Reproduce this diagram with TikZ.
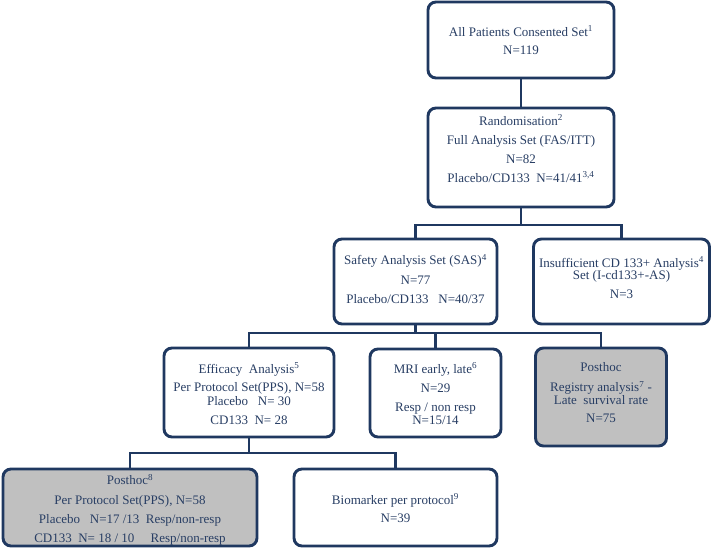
\documentclass[tikz,border=0pt]{standalone}
\usepackage{fontspec}
\setmainfont{Liberation Serif}
\definecolor{edge}{RGB}{31,56,96}
\definecolor{txt}{RGB}{40,62,100}
\definecolor{shade}{RGB}{192,192,192}
\begin{document}
\begin{tikzpicture}[x=1pt,y=-1pt,
  box/.style={draw=edge,line width=2.9pt,rounded corners=8pt,fill=white,inner sep=0pt},
  greybox/.style={box,fill=shade},
  label/.style={text=txt,align=center,inner sep=0pt,font=\fontsize{13}{15}\selectfont},
  link/.style={draw=edge,line width=2.9pt}]
\useasboundingbox (0,0) rectangle (713,548);
% boxes
\node[box,minimum width=186pt,minimum height=76pt] (b1) at (521,40) {};
\node[box,minimum width=186pt,minimum height=99pt] (b2) at (521,157.5) {};
\node[box,minimum width=163pt,minimum height=85pt] (sas) at (415.5,281.5) {};
\node[box,minimum width=176pt,minimum height=85pt] (ins) at (621.5,281.5) {};
\node[box,minimum width=170pt,minimum height=89pt] (eff) at (249,392.5) {};
\node[box,minimum width=131pt,minimum height=88pt] (mri) at (435.5,393) {};
\node[greybox,minimum width=131pt,minimum height=98pt] (post) at (601,397) {};
\node[greybox,minimum width=254pt,minimum height=77pt] (post8) at (130,507.5) {};
\node[box,minimum width=203pt,minimum height=77pt] (bio) at (395.5,507.5) {};
% texts
\node[label] (t1) at (521,40) {All Patients Consented Set\textsuperscript{1}\\[3pt]N=119};
\node[label] (t2) at (521,148.5) {Randomisation\textsuperscript{2}\\[4pt]Full Analysis Set (FAS/ITT)\\[4pt]N=82\\[4pt]Placebo/CD133\ \ N=41/41\textsuperscript{3,4}};
\node[label] (tsas) at (415.5,279) {Safety Analysis Set (SAS)\textsuperscript{4}\\[5pt]N=77\\[4pt]Placebo/CD133\ \ \ N=40/37};
\node[label] (tins) at (621.5,277.5) {Insufficient CD 133+ Analysis\textsuperscript{4}\\[-3pt]Set (I-cd133+-AS)\\[4pt]N=3};
\node[label] (teff) at (249,393.5) {Efficacy\ \ Analysis\textsuperscript{5}\\[3pt]Per Protocol Set(PPS), N=58\\[-1pt]Placebo\ \ \ N= 30\\[4pt]CD133\ \ N= 28};
\node[label] (tmri) at (435.5,393.5) {MRI early, late\textsuperscript{6}\\[4pt]N=29\\[4pt]Resp / non resp\\[-2pt]N=15/14};
\node[label] (tpost) at (601,393) {Posthoc\\[5pt]Registry analysis\textsuperscript{7} -\\[-2pt]Late\ \ survival rate\\[3pt]N=75};
\node[label] (tpost8) at (130,510) {Posthoc\textsuperscript{8}\\[4.3pt]Per Protocol Set(PPS), N=58\\[4.3pt]Placebo\ \ \ N=17 /13\ \ Resp/non-resp\\[4.3pt]CD133\ \ N= 18 / 10\ \ \ \ \ Resp/non-resp};
\node[label] (tbio) at (395.5,508) {Biomarker per protocol\textsuperscript{9}\\[3pt]N=39};
% connectors
\coordinate (j1) at (521,225);
\coordinate (j2) at (415.5,333);
\coordinate (j3) at (249,453);
\draw[link] (b1.south) -- (b2.north);
\draw[link] (b2.south) -- (j1);
\draw[link] (j1) -| (sas.north);
\draw[link] (j1) -| (ins.north);
\draw[link] (sas.south) -- (j2);
\draw[link] (j2) -| (eff.north);
\draw[link] (j2) -| (mri.north);
\draw[link] (j2) -| (post.north);
\draw[link] (eff.south) -- (j3);
\draw[link] (j3) -| (post8.north);
\draw[link] (j3) -| (bio.north);
\end{tikzpicture}
\end{document}
